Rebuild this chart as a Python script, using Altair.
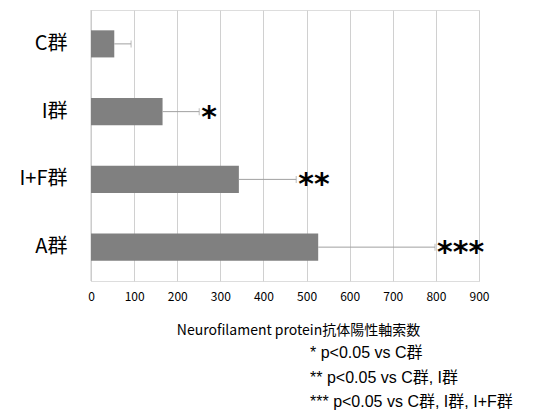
import altair as alt
import pandas as pd

groups = ["C群", "I群", "I+F群", "A群"]
means = [54, 166, 343, 527]
err_ends = [93, 251, 476, 798]
stars = ["", "*", "**", "***"]
x_ticks = [0, 100, 200, 300, 400, 500, 600, 700, 800, 900]
notes = ["* p<0.05 vs C群", "** p<0.05 vs C群, I群", "*** p<0.05 vs C群, I群, I+F群"]
note_y = [343, 368, 392]

df = pd.DataFrame({"group": groups, "mean": means, "err": err_ends, "star": stars})

FONT = "Noto Sans CJK JP"

x_scale = alt.Scale(domain=[0, 900], nice=False)
y_enc = alt.Y("group:N", sort=groups, title=None,
              scale=alt.Scale(paddingInner=0.6, paddingOuter=0.3),
              axis=alt.Axis(labelFontSize=20, labelFont=FONT, labelFontWeight="normal",
                            labelColor="#000000",
                            labelPadding=24, ticks=False, domain=False))

base = alt.Chart(df)

bars = base.mark_bar(color="#808080").encode(
    x=alt.X("mean:Q", scale=x_scale,
            title="Neurofilament protein抗体陽性軸索数",
            axis=alt.Axis(values=x_ticks, grid=True, gridColor="#d0d0d0", ticks=False,
                          domain=False, labelFontSize=12, labelFont=FONT, labelFlush=False,
                          labelColor="#000000", labelPadding=10,
                          titleFontSize=14, titleFont=FONT, titleFontWeight="normal",
                          titleColor="#000000", titlePadding=21, titleX=207,
                          titleAlign="center")),
    y=y_enc,
)

rules = base.mark_rule(color="#a0a0a0", strokeWidth=1).encode(
    x=alt.X("mean:Q", scale=x_scale), x2="err:Q", y=y_enc,
)

caps = base.mark_tick(color="#a0a0a0", orient="vertical", size=7, thickness=1).encode(
    x=alt.X("err:Q", scale=x_scale), y=y_enc,
)

star_text = base.mark_text(align="left", baseline="middle", fontSize=30, fontWeight="bold",
                           dx=2, dy=6, font="DejaVu Sans", color="#000000").encode(
    x=alt.X("err:Q", scale=x_scale), y=y_enc, text="star:N",
)

left_line = alt.Chart(pd.DataFrame({"v": [0]})).mark_rule(color="#c8c8c8").encode(
    x=alt.X("v:Q", scale=x_scale)
)

note_layers = [
    alt.Chart(pd.DataFrame({"note": [n]})).mark_text(
        align="left", baseline="middle", fontSize=16,
        font="Liberation Sans, Noto Sans CJK JP", color="#000000"
    ).encode(x=alt.value(219), y=alt.value(yy), text="note:N")
    for n, yy in zip(notes, note_y)
]

chart = alt.layer(left_line, bars, rules, caps, star_text, *note_layers).properties(
    width=388, height=271,
    autosize=alt.AutoSizeParams(type="none"),
    padding={"left": 83, "top": 2, "right": 50, "bottom": 131},
).configure_view(stroke=None).configure(background="white")

chart.save("out.html", embed_options={"renderer": "svg", "actions": False})
